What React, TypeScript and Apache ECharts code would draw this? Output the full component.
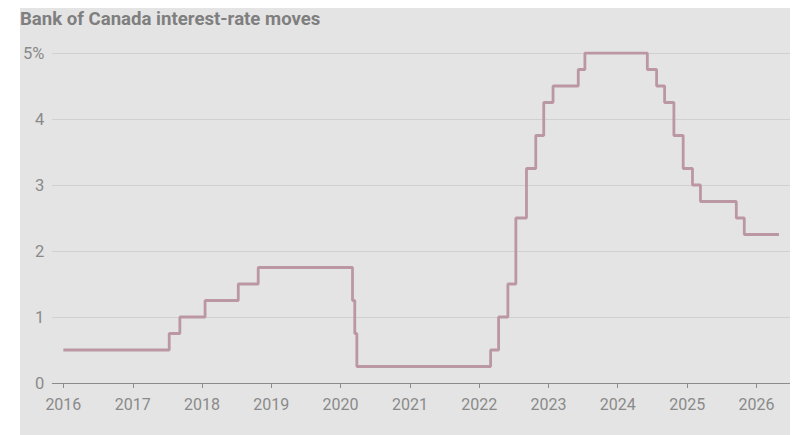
import React, { useEffect, useRef } from "react";
import * as echarts from "echarts";

const TITLE = "Bank of Canada interest-rate moves";

// Policy-rate decision dates and the new target rate (%)
const dates = [
  "2016-01-01", "2017-07-12", "2017-09-06", "2018-01-17", "2018-07-11", "2018-10-24",
  "2020-03-04", "2020-03-16", "2020-03-27", "2022-03-02", "2022-04-13", "2022-06-01",
  "2022-07-13", "2022-09-07", "2022-10-26", "2022-12-07", "2023-01-25", "2023-06-07",
  "2023-07-12", "2024-06-05", "2024-07-24", "2024-09-04", "2024-10-23", "2024-12-11",
  "2025-01-29", "2025-03-12", "2025-09-17", "2025-10-29", "2026-04-30",
];
const rates = [
  0.5, 0.75, 1.0, 1.25, 1.5, 1.75,
  1.25, 0.75, 0.25, 0.5, 1.0, 1.5,
  2.5, 3.25, 3.75, 4.25, 4.5, 4.75,
  5.0, 4.75, 4.5, 4.25, 3.75, 3.25,
  3.0, 2.75, 2.5, 2.25, 2.25,
];
const yearTicks = [2016, 2017, 2018, 2019, 2020, 2021, 2022, 2023, 2024, 2025, 2026];
const yTicks = [0, 1, 2, 3, 4, 5];

export default function App() {
  const ref = useRef<HTMLDivElement>(null);
  useEffect(() => {
    if (!ref.current) return;
    const chart = echarts.init(ref.current, undefined, { renderer: "svg" });
    const tickTimes = yearTicks.map((y) => Date.UTC(y, 0, 1));
    const data = dates.map((d, i) => [Date.parse(d + "T00:00:00Z"), rates[i]]);
    chart.setOption({
      animation: false,
      backgroundColor: "#e4e4e4",
      title: {
        text: TITLE,
        left: 0,
        top: 1,
        padding: 0,
        textStyle: {
          fontFamily: "Roboto",
          fontWeight: "bold",
          fontSize: 18.6,
          color: "#7f7f7f",
        },
      },
      grid: { left: 31, right: 0, top: 45, bottom: 52 },
      xAxis: {
        type: "value",
        min: Date.UTC(2015, 10, 4),
        max: Date.UTC(2026, 5, 27),
        axisLine: { show: true, lineStyle: { color: "#8c8c8c", width: 1.2 } },
        axisTick: {
          show: true,
          length: 5,
          lineStyle: { color: "#8c8c8c" },
          customValues: tickTimes,
        },
        axisLabel: {
          customValues: tickTimes,
          formatter: (v: number) => String(new Date(v).getUTCFullYear()),
          color: "#8a8a8a",
          fontFamily: "Roboto",
          fontSize: 16,
          margin: 13,
        },
        splitLine: { show: false },
      },
      yAxis: {
        type: "value",
        min: 0,
        max: 5,
        interval: 1,
        axisLine: { show: false },
        axisTick: { show: false },
        axisLabel: {
          formatter: (v: number) => (v === yTicks[yTicks.length - 1] ? v + "%" : String(v)),
          color: "#8a8a8a",
          fontFamily: "Roboto",
          fontSize: 16.5,
          margin: 8,
        },
        splitLine: { show: true, lineStyle: { color: "#d0d0d0", width: 1 } },
      },
      series: [
        {
          type: "line",
          step: "end",
          data,
          showSymbol: false,
          symbol: "none",
          lineStyle: { color: "#bb97a3", width: 2.8 },
        },
      ],
    });
    return () => chart.dispose();
  }, []);
  return (
    <div style={{ position: "absolute", left: 0, top: 0, width: 792, height: 435, background: "#ffffff" }}>
      <div ref={ref} style={{ position: "absolute", left: 20, top: 8, width: 770, height: 427 }} />
    </div>
  );
}
